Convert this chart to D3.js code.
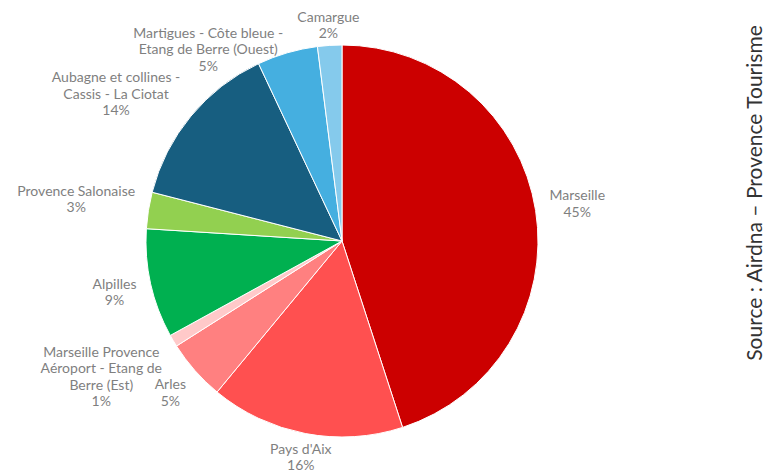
<!DOCTYPE html>
<html>
<head>
<meta charset="utf-8">
<script src="https://cdn.jsdelivr.net/npm/d3@7"></script>
<style>
  html, body { margin: 0; padding: 0; background: #ffffff; }
  svg { display: block; }
</style>
</head>
<body>
<svg id="chart" width="768" height="475"></svg>
<script>
// Répartition de l'offre par territoire (parts en %)
const categories = [
  "Marseille",
  "Pays d'Aix",
  "Arles",
  "Marseille Provence Aéroport - Etang de Berre (Est)",
  "Alpilles",
  "Provence Salonaise",
  "Aubagne et collines - Cassis - La Ciotat",
  "Martigues - Côte bleue - Etang de Berre (Ouest)",
  "Camargue"
];
const labelLines = [
  ["Marseille"],
  ["Pays d'Aix"],
  ["Arles"],
  ["Marseille Provence", "Aéroport - Etang de", "Berre (Est)"],
  ["Alpilles"],
  ["Provence Salonaise"],
  ["Aubagne et collines -", "Cassis - La Ciotat"],
  ["Martigues - Côte bleue -", "Etang de Berre (Ouest)"],
  ["Camargue"]
];
const shares = [45, 16, 5, 1, 9, 3, 14, 5, 2];
const colors = ["#cc0000", "#ff5050", "#ff8080", "#ffc9c9", "#00b050", "#92d050", "#175e80", "#45afe0", "#85caec"];
const sourceText = "Source : Airdna \u2013 Provence Tourisme";

const svg = d3.select("#chart");
const cx = 342, cy = 241, radius = 196;

const data = categories.map((c, i) => ({ name: c, lines: labelLines[i], value: shares[i], color: colors[i] }));

const pie = d3.pie().sort(null).value(d => d.value);
const arcs = pie(data);
const arc = d3.arc().innerRadius(0).outerRadius(radius);

const g = svg.append("g").attr("transform", `translate(${cx},${cy})`);

g.selectAll("path.slice")
  .data(arcs)
  .join("path")
  .attr("class", "slice")
  .attr("d", arc)
  .attr("fill", d => d.data.color)
  .attr("stroke", "#ffffff")
  .attr("stroke-width", 1);

// Data labels: name + percentage, placed outside the slice along its mid angle
const lineH = 16.5;
const labelGap = 3.5;   // space between the pie and the label frame
const framePadX = 9;    // inner horizontal padding of a label frame
const spacingX = 18;    // minimal horizontal spacing between two label lines
const labels = g.selectAll("g.label")
  .data(arcs)
  .join("g")
  .attr("class", "label");

labels.each(function (d) {
  const t = d3.select(this).append("text")
    .attr("text-anchor", "middle")
    .attr("font-family", "Lato, 'Noto Sans', sans-serif")
    .attr("font-size", 14)
    .attr("fill", "#7f7f7f");
  const lines = d.data.lines.concat([d.data.value + "%"]);
  d.lineBoxes = [];
  lines.forEach((ln, i) => {
    const y = (i - (lines.length - 1) / 2) * lineH;
    const span = t.append("tspan")
      .attr("x", 0)
      .attr("y", y)
      .attr("dy", "0.35em")
      .text(ln);
    d.lineBoxes.push({ y: y, w: span.node().getComputedTextLength() });
  });
  d.textW = d3.max(d.lineBoxes, b => b.w);
  d.textH = lines.length * lineH;
});

// distance from pie centre to the nearest point of a box centred at (x, y)
function nearest(x, y, w, h) {
  const nx = Math.max(x - w / 2, Math.min(0, x + w / 2));
  const ny = Math.max(y - h / 2, Math.min(0, y + h / 2));
  return Math.hypot(nx, ny);
}

// distance along an angle at which the label frame clears the pie
function clearance(d, theta) {
  const ux = Math.sin(theta), uy = -Math.cos(theta);
  const w = d.textW + framePadX * 2, h = d.textH;
  let lo = 0, hi = radius * 3;
  for (let k = 0; k < 40; k++) {
    const mid = (lo + hi) / 2;
    if (nearest(ux * mid, uy * mid, w, h) < radius + labelGap) lo = mid; else hi = mid;
  }
  return hi;
}

function setPos(d, theta, dist) {
  d.lx = Math.sin(theta) * dist;
  d.ly = -Math.cos(theta) * dist;
}

// two labels collide when any of their text lines do
function overlaps(a, b) {
  const dx = Math.abs(a.lx - b.lx) * 2;
  return a.lineBoxes.some(la => b.lineBoxes.some(lb =>
    dx < la.w + lb.w + spacingX * 2 &&
    Math.abs((a.ly + la.y) - (b.ly + lb.y)) < lineH - 0.5));
}

// Labels are settled from the top and bottom of each side towards the
// horizontal axis; a colliding label slides along its circle towards it.
const TAU = Math.PI * 2;
const mids = arcs.map(d => (d.startAngle + d.endAngle) / 2);
const groups = [
  { test: m => m < TAU / 4, order: 1, step: 1 },                    // top right
  { test: m => m >= TAU / 4 && m < TAU / 2, order: -1, step: -1 },  // bottom right
  { test: m => m >= TAU / 2 && m < TAU * 3 / 4, order: 1, step: 1 },// bottom left
  { test: m => m >= TAU * 3 / 4, order: -1, step: -1 }              // top left
];
const placed = [];
groups.forEach(grp => {
  const members = arcs.filter((d, i) => grp.test(mids[i]))
    .sort((a, b) => grp.order * ((a.startAngle + a.endAngle) - (b.startAngle + b.endAngle)));
  members.forEach(d => {
    let theta = (d.startAngle + d.endAngle) / 2;
    const dist = clearance(d, theta);
    setPos(d, theta, dist);
    let guard = 0;
    while (placed.some(p => overlaps(p, d)) && guard < 400) {
      theta += grp.step * Math.PI / 720;
      setPos(d, theta, dist);
      guard++;
    }
    placed.push(d);
  });
});

labels.attr("transform", d => `translate(${d.lx},${d.ly})`);

// Source, written vertically along the right edge
svg.append("text")
  .attr("transform", "translate(761.5,193) rotate(-90)")
  .attr("text-anchor", "middle")
  .attr("font-family", "Lato, 'Noto Sans', sans-serif")
  .attr("font-size", 21)
  .attr("fill", "#333333")
  .text(sourceText);
</script>
</body>
</html>
